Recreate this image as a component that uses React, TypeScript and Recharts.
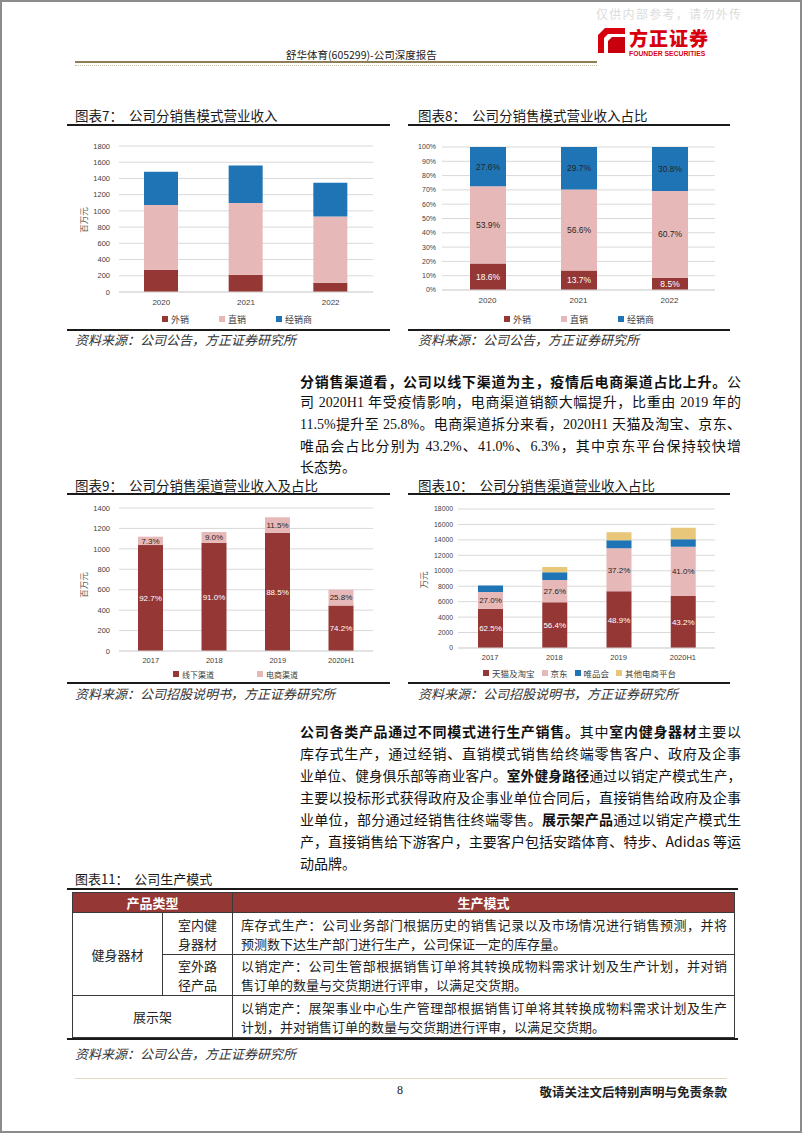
import { BarChart, Bar, XAxis, YAxis, CartesianGrid, Legend, LabelList } from 'recharts';

const RED = '#953735';
const PINK = '#E6B9B8';
const BLUE = '#1F74B5';
const GOLD = '#E8C67A';
const SANS = '"Liberation Sans", Arial, "Noto Sans CJK SC", sans-serif';
const CJK = '"Noto Sans CJK SC", sans-serif';
const SERIF = '"Liberation Serif", "Noto Sans CJK SC", serif';

// 图表7/8: 销售模式 (百万元, 占比%)
const modeYears = ['2020', '2021', '2022'];
const modeExport = [275, 214, 114];
const modeDirect = [798, 882, 817];
const modeDealer = [409, 463, 415];
const modeExportPct = [18.6, 13.7, 8.5];
const modeDirectPct = [53.9, 56.6, 60.7];
const modeDealerPct = [27.6, 29.7, 30.8];

// 图表9: 销售渠道 (百万元)
const channelYears = ['2017', '2018', '2019', '2020H1'];
const channelOffline = [1037, 1060, 1158, 445];
const channelOnline = [82, 105, 151, 155];
const channelOfflinePct = [92.7, 91.0, 88.5, 74.2];
const channelOnlinePct = [7.3, 9.0, 11.5, 25.8];

// 图表10: 电商平台 (万元)
const platformTmall = [5068, 5916, 7335, 6720];
const platformJd = [2189, 2895, 5580, 6380];
const platformVip = [851, 990, 1050, 980];
const platformOther = [0, 690, 1035, 1480];
const platformTmallPct = [62.5, 56.4, 48.9, 43.2];
const platformJdPct = [27.0, 27.6, 37.2, 41.0];

const modeTicks = [0, 200, 400, 600, 800, 1000, 1200, 1400, 1600, 1800];
const shareTicks = [0, 10, 20, 30, 40, 50, 60, 70, 80, 90, 100];
const channelTicks = [0, 200, 400, 600, 800, 1000, 1200, 1400];
const platformTicks = [0, 2000, 4000, 6000, 8000, 10000, 12000, 14000, 16000, 18000];

const modeRows = modeYears.map((year, i) => ({
    year, exp: modeExport[i], direct: modeDirect[i], dealer: modeDealer[i],
}));
const modeShareRows = modeYears.map((year, i) => ({
    year, exp: modeExportPct[i], direct: modeDirectPct[i], dealer: modeDealerPct[i],
}));
const channelRows = channelYears.map((year, i) => ({
    year, offline: channelOffline[i], online: channelOnline[i],
    offlinePct: channelOfflinePct[i], onlinePct: channelOnlinePct[i],
}));
const platformRows = channelYears.map((year, i) => ({
    year, tmall: platformTmall[i], jd: platformJd[i], vip: platformVip[i], other: platformOther[i],
    tmallPct: platformTmallPct[i], jdPct: platformJdPct[i],
}));

const pct = (v: any) => `${Number(v).toFixed(1)}%`;

interface Series {
    key: string;
    name: string;
    color: string;
    labelKey?: string;
    labelColor?: string;
}

interface StackProps {
    data: any[];
    series: Series[];
    x: number;
    y: number;
    width: number;
    height: number;
    margin: { top: number; right: number; left: number; bottom: number };
    ticks: number[];
    yWidth: number;
    yTickSize: number;
    yTickMargin: number;
    yTickFont: number;
    yFormat?: (v: number) => string;
    xHeight: number;
    xTickFont: number;
    barSize: number;
    labelFont: number;
    legendLeft: number;
    legendGap: number;
    legendFont: number;
}

// legend drawn in series order (recharts sorts by name otherwise)
function LegendBox({ series, gap, font }: any) {
    return (
        <div style={{ display: 'flex', alignItems: 'center', gap, height: 14, fontSize: font, color: '#404040', fontFamily: CJK, whiteSpace: 'nowrap' }}>
            {series.map((s: Series) => (
                <span key={s.key} style={{ display: 'flex', alignItems: 'center' }}>
                    <span style={{ display: 'inline-block', width: 6, height: 6, background: s.color, marginRight: 3 }} />
                    {s.name}
                </span>
            ))}
        </div>
    );
}

function StackChart(p: StackProps) {
    const max = p.ticks[p.ticks.length - 1];
    return (
        <div style={{ position: 'absolute', left: p.x, top: p.y }}>
            <BarChart width={p.width} height={p.height} data={p.data} margin={p.margin}>
                <CartesianGrid vertical={false} stroke="#D9D9D9" />
                <XAxis
                    dataKey="year"
                    height={p.xHeight}
                    interval={0}
                    tickLine={false}
                    tickSize={6}
                    tickMargin={1}
                    axisLine={{ stroke: '#D9D9D9' }}
                    tick={{ fontSize: p.xTickFont, fill: '#404040', fontFamily: SANS }}
                />
                <YAxis
                    width={p.yWidth}
                    domain={[0, max]}
                    ticks={p.ticks}
                    interval={0}
                    allowDataOverflow
                    axisLine={false}
                    tickLine={false}
                    tickSize={p.yTickSize}
                    tickMargin={p.yTickMargin}
                    tickFormatter={p.yFormat}
                    tick={{ fontSize: p.yTickFont, fill: '#404040', fontFamily: SANS }}
                />
                <Legend
                    verticalAlign="bottom"
                    height={14}
                    wrapperStyle={{ left: p.legendLeft, width: 'auto' }}
                    content={() => <LegendBox series={p.series} gap={p.legendGap} font={p.legendFont} />}
                />
                {p.series.map((s) => (
                    <Bar key={s.key} dataKey={s.key} name={s.name} stackId="a" fill={s.color} barSize={p.barSize} isAnimationActive={false}>
                        {s.labelKey && (
                            <LabelList dataKey={s.labelKey} position="center" formatter={pct} fill={s.labelColor} fontSize={p.labelFont} fontFamily={SANS} />
                        )}
                    </Bar>
                ))}
            </BarChart>
        </div>
    );
}

function Txt({ x, y, size, lh = 1.4, children, style }: any) {
    return (
        <div style={{ position: 'absolute', left: x, top: y - (size * lh) / 2, fontSize: size, lineHeight: `${size * lh}px`, whiteSpace: 'pre', ...style }}>
            {children}
        </div>
    );
}

function Rule({ x, y, w, h = 2, color = '#1a1a1a' }: any) {
    return <div style={{ position: 'absolute', left: x, top: y - h / 2, width: w, height: h, background: color }} />;
}

function AxisTitle({ x, y, text }: any) {
    return (
        <div style={{ position: 'absolute', left: x, top: y, transform: 'translate(-50%, -50%) rotate(-90deg)', fontSize: 8.5, color: '#595959', fontFamily: CJK, whiteSpace: 'nowrap' }}>
            {text}
        </div>
    );
}

function PLine({ y, last, children, font = CJK, size = 14 }: any) {
    return (
        <div style={{ position: 'absolute', left: 300, top: y - 11, width: 441, height: 22, lineHeight: '22px', fontSize: size, fontFamily: font, color: '#111', textAlign: 'justify', textAlignLast: last ? 'left' : 'justify' } as any}>
            {children}
        </div>
    );
}

const cell: any = { border: '1px solid #3a3a3a', padding: 0, verticalAlign: 'middle' };

function JLine({ children }: any) {
    return <div style={{ textAlign: 'justify', textAlignLast: 'justify' } as any}>{children}</div>;
}

export default function App() {
    const modeSeries: Series[] = [
        { key: 'exp', name: '外销', color: RED },
        { key: 'direct', name: '直销', color: PINK },
        { key: 'dealer', name: '经销商', color: BLUE },
    ];
    const shareSeries: Series[] = [
        { key: 'exp', name: '外销', color: RED, labelKey: 'exp', labelColor: '#ffffff' },
        { key: 'direct', name: '直销', color: PINK, labelKey: 'direct', labelColor: '#262626' },
        { key: 'dealer', name: '经销商', color: BLUE, labelKey: 'dealer', labelColor: '#262626' },
    ];
    const channelSeries: Series[] = [
        { key: 'offline', name: '线下渠道', color: RED, labelKey: 'offlinePct', labelColor: '#ffffff' },
        { key: 'online', name: '电商渠道', color: PINK, labelKey: 'onlinePct', labelColor: '#262626' },
    ];
    const platformSeries: Series[] = [
        { key: 'tmall', name: '天猫及淘宝', color: RED, labelKey: 'tmallPct', labelColor: '#ffffff' },
        { key: 'jd', name: '京东', color: PINK, labelKey: 'jdPct', labelColor: '#262626' },
        { key: 'vip', name: '唯品会', color: BLUE },
        { key: 'other', name: '其他电商平台', color: GOLD },
    ];

    return (
        <div style={{ position: 'absolute', left: 0, top: 0, width: 802, height: 1133, background: '#fff', border: '2px solid #8c8c8c', boxSizing: 'border-box', overflow: 'hidden', fontFamily: CJK, color: '#1a1a1a' }}>
            <div style={{ position: 'absolute', left: -2, top: -2, width: 802, height: 1133 }}>
                {/* header */}
                <Txt x={596} y={14} size={12} lh={1} style={{ color: '#dcdcdc', letterSpacing: 1.3 }}>仅供内部参考，请勿外传</Txt>
                <svg style={{ position: 'absolute', left: 598, top: 28 }} width={27} height={25} viewBox="0 0 27 25">
                    <polygon points="7,0 27,0 27,6 10,6 6,10 6,25 0,25 0,7" fill="#d7000f" />
                    <polygon points="14,9 27,9 27,25 10,25 10,13" fill="#c8000e" />
                </svg>
                <Txt x={629} y={37} size={19} lh={1} style={{ color: '#d7000f', fontWeight: 900, letterSpacing: 1 }}>方正证券</Txt>
                <Txt x={629} y={54.5} size={6.8} lh={1} style={{ color: '#d7000f', fontWeight: 700, fontFamily: SANS }}>FOUNDER SECURITIES</Txt>
                <Txt x={286} y={55} size={10.5} style={{ color: '#222' }}>舒华体育(605299)-公司深度报告</Txt>
                <Rule x={75} y={62} w={522} h={1.5} color="#8e7d55" />
                <div style={{ position: 'absolute', left: 75, top: 65, width: 522, height: 0, borderTop: '1px dotted #c9c0a8' }} />

                {/* 图表7 */}
                <Txt x={75} y={115} size={13.5}>图表7：  公司分销售模式营业收入</Txt>
                <Rule x={67} y={125} w={323} />
                <StackChart
                    data={modeRows} series={modeSeries} x={67} y={130} width={323} height={200}
                    margin={{ top: 16, right: 17, left: 0, bottom: 4 }} ticks={modeTicks}
                    yWidth={52} yTickSize={6} yTickMargin={3} yTickFont={7.5} xHeight={20} xTickFont={8}
                    barSize={34} labelFont={8.5} legendLeft={95} legendGap={30} legendFont={9}
                />
                <AxisTitle x={83} y={220} text="百万元" />
                <Rule x={67} y={330} w={323} />
                <Txt x={75} y={340} size={13} style={{ fontStyle: 'italic', color: '#333' }}>资料来源：公司公告，方正证券研究所</Txt>

                {/* 图表8 */}
                <Txt x={418} y={115} size={13.5}>图表8：  公司分销售模式营业收入占比</Txt>
                <Rule x={408} y={125} w={322} />
                <StackChart
                    data={modeShareRows} series={shareSeries} x={408} y={130} width={322} height={200}
                    margin={{ top: 17, right: 15, left: 0, bottom: 4 }} ticks={shareTicks} yFormat={(v) => `${v}%`}
                    yWidth={34} yTickSize={6} yTickMargin={0} yTickFont={7} xHeight={22} xTickFont={8}
                    barSize={36} labelFont={8.5} legendLeft={96} legendGap={30} legendFont={9}
                />
                <Rule x={408} y={330} w={322} />
                <Txt x={418} y={340} size={13} style={{ fontStyle: 'italic', color: '#333' }}>资料来源：公司公告，方正证券研究所</Txt>

                {/* paragraph 1 */}
                <PLine y={381} font={SERIF}><b style={{ fontFamily: CJK }}>分销售渠道看，公司以线下渠道为主，疫情后电商渠道占比上升。</b>公</PLine>
                <PLine y={403} font={SERIF}>司 2020H1 年受疫情影响，电商渠道销额大幅提升，比重由 2019 年的</PLine>
                <PLine y={425} font={SERIF}>11.5%提升至 25.8%。电商渠道拆分来看，2020H1 天猫及淘宝、京东、</PLine>
                <PLine y={447} font={SERIF}>唯品会占比分别为 43.2%、41.0%、6.3%，其中京东平台保持较快增</PLine>
                <PLine y={468} font={SERIF} last>长态势。</PLine>

                {/* 图表9 */}
                <Txt x={75} y={485} size={13.5}>图表9：  公司分销售渠道营业收入及占比</Txt>
                <Rule x={67} y={494} w={323} />
                <StackChart
                    data={channelRows} series={channelSeries} x={67} y={494} width={323} height={189}
                    margin={{ top: 14, right: 17, left: 0, bottom: 2 }} ticks={channelTicks}
                    yWidth={52} yTickSize={6} yTickMargin={3} yTickFont={7.5} xHeight={16} xTickFont={7.5}
                    barSize={25} labelFont={8} legendLeft={106} legendGap={43} legendFont={8}
                />
                <AxisTitle x={83} y={585} text="百万元" />
                <Rule x={67} y={683} w={323} />
                <Txt x={75} y={694} size={13} style={{ fontStyle: 'italic', color: '#333' }}>资料来源：公司招股说明书，方正证券研究所</Txt>

                {/* 图表10 */}
                <Txt x={418} y={485} size={13.5}>图表10：  公司分销售渠道营业收入占比</Txt>
                <Rule x={408} y={494} w={322} />
                <StackChart
                    data={platformRows} series={platformSeries} x={408} y={494} width={322} height={189}
                    margin={{ top: 15, right: 15, left: 0, bottom: 3 }} ticks={platformTicks}
                    yWidth={50} yTickSize={5} yTickMargin={0} yTickFont={6.8} xHeight={18} xTickFont={7.5}
                    barSize={25} labelFont={8} legendLeft={75} legendGap={7} legendFont={8.5}
                />
                <AxisTitle x={423} y={580} text="万元" />
                <Rule x={408} y={683} w={322} />
                <Txt x={418} y={694} size={13} style={{ fontStyle: 'italic', color: '#333' }}>资料来源：公司招股说明书，方正证券研究所</Txt>

                {/* paragraph 2 */}
                <PLine y={731}><b>公司各类产品通过不同模式进行生产销售。</b>其中<b>室内健身器材</b>主要以</PLine>
                <PLine y={753}>库存式生产，通过经销、直销模式销售给终端零售客户、政府及企事</PLine>
                <PLine y={775} size={13.6}>业单位、健身俱乐部等商业客户。<b>室外健身路径</b>通过以销定产模式生产，</PLine>
                <PLine y={797}>主要以投标形式获得政府及企事业单位合同后，直接销售给政府及企事</PLine>
                <PLine y={819}>业单位，部分通过经销售往终端零售。<b>展示架产品</b>通过以销定产模式生</PLine>
                <PLine y={841}>产，直接销售给下游客户，主要客户包括安踏体育、特步、Adidas 等运</PLine>
                <PLine y={863} last>动品牌。</PLine>

                {/* 图表11 */}
                <Txt x={75} y={879} size={13}>图表11：  公司生产模式</Txt>
                <Rule x={67} y={889} w={671} />
                <table style={{ position: 'absolute', left: 72, top: 892, width: 663, borderCollapse: 'collapse', tableLayout: 'fixed', fontSize: 13, color: '#222', fontFamily: CJK }}>
                    <colgroup>
                        <col style={{ width: 90 }} />
                        <col style={{ width: 70 }} />
                        <col />
                    </colgroup>
                    <tbody>
                        <tr style={{ height: 20, background: RED, color: '#fff', fontWeight: 700, lineHeight: '18px' }}>
                            <td colSpan={2} style={{ ...cell, textAlign: 'center' }}>产品类型</td>
                            <td style={{ ...cell, textAlign: 'center' }}>生产模式</td>
                        </tr>
                        <tr style={{ height: 42, lineHeight: '19px' }}>
                            <td rowSpan={2} style={{ ...cell, textAlign: 'center' }}>健身器材</td>
                            <td style={{ ...cell, textAlign: 'center' }}>室内健<br />身器材</td>
                            <td style={{ ...cell, padding: '0 7px 0 8px' }}>
                                <JLine>库存式生产：公司业务部门根据历史的销售记录以及市场情况进行销售预测，并将</JLine>
                                <div>预测数下达生产部门进行生产，公司保证一定的库存量。</div>
                            </td>
                        </tr>
                        <tr style={{ height: 41, lineHeight: '19px' }}>
                            <td style={{ ...cell, textAlign: 'center' }}>室外路<br />径产品</td>
                            <td style={{ ...cell, padding: '0 7px 0 8px' }}>
                                <JLine>以销定产：公司生管部根据销售订单将其转换成物料需求计划及生产计划，并对销</JLine>
                                <div>售订单的数量与交货期进行评审，以满足交货期。</div>
                            </td>
                        </tr>
                        <tr style={{ height: 42, lineHeight: '19px' }}>
                            <td colSpan={2} style={{ ...cell, textAlign: 'center' }}>展示架</td>
                            <td style={{ ...cell, padding: '0 7px 0 8px' }}>
                                <JLine>以销定产：展架事业中心生产管理部根据销售订单将其转换成物料需求计划及生产</JLine>
                                <div>计划，并对销售订单的数量与交货期进行评审，以满足交货期。</div>
                            </td>
                        </tr>
                    </tbody>
                </table>
                <Rule x={67} y={1039} w={671} />
                <Txt x={75} y={1054} size={13} style={{ fontStyle: 'italic', color: '#333' }}>资料来源：公司公告，方正证券研究所</Txt>

                {/* footer */}
                <Rule x={75} y={1078} w={652} h={1} color="#e6d9c3" />
                <Txt x={397} y={1090} size={12} style={{ fontFamily: SERIF, color: '#222' }}>8</Txt>
                <div style={{ position: 'absolute', right: 802 - 727, top: 1084, fontSize: 12.5, lineHeight: '16px', fontWeight: 700, color: '#222', whiteSpace: 'nowrap' }}>敬请关注文后特别声明与免责条款</div>
            </div>
        </div>
    );
}
